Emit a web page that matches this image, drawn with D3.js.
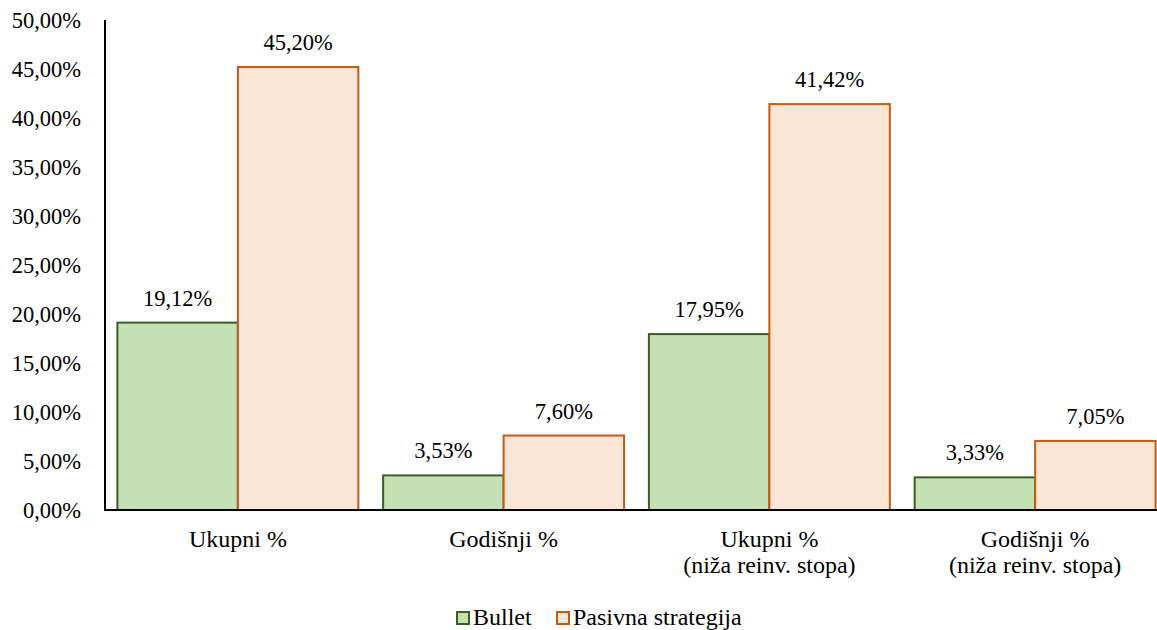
<!DOCTYPE html>
<html>
<head>
<meta charset="utf-8">
<script src="https://cdn.jsdelivr.net/npm/d3@7"></script>
<style>
  body { margin: 0; background: #fff; }
</style>
</head>
<body>
<script>
// chart data
var categories = [
    ["Ukupni %"],
    ["Godišnji %"],
    ["Ukupni %", "(niža reinv. stopa)"],
    ["Godišnji %", "(niža reinv. stopa)"]
];
var seriesNames = ["Bullet", "Pasivna strategija"];
var bulletValues = [19.12, 3.53, 17.95, 3.33];
var pasivnaValues = [45.20, 7.60, 41.42, 7.05];
var yTicks = [0, 5, 10, 15, 20, 25, 30, 35, 40, 45, 50];

var fills = ["#C5E0B4", "#FBE5D6"];
var strokes = ["#3B5E22", "#C55A11"];

var width = 1157, height = 630;
var margin = {top: 20, right: -11, bottom: 120, left: 105};
var FONT = "Liberation Serif";
var FS = "22.5px";     // ticks, data labels
var FS_CAT = "24px";   // category labels, legend

var fmt = function (v) { return v.toFixed(2).replace(".", ",") + "%"; };

var svg = d3.select("body").append("svg")
    .attr("width", width)
    .attr("height", height);

var x0 = d3.scaleBand()
    .domain(d3.range(categories.length))
    .range([margin.left, width - margin.right])
    .padding(0);

var x1 = d3.scaleBand()
    .domain(seriesNames)
    .range([12.4, x0.bandwidth() - 12.4])
    .padding(0);

var y = d3.scaleLinear()
    .domain([0, 50])
    .range([height - margin.bottom, margin.top]);

// y axis labels (no ticks)
svg.append("g")
    .selectAll("text")
    .data(yTicks)
    .enter()
    .append("text")
    .attr("x", 81)
    .attr("y", function (d) { return y(d); })
    .attr("dy", "0.35em")
    .attr("text-anchor", "end")
    .style("font-family", FONT)
    .style("font-size", FS)
    .text(function (d) { return fmt(d); });

var rows = categories.map(function (c, i) {
    return {i: i, values: [bulletValues[i], pasivnaValues[i]]};
});

var groups = svg.selectAll("g.cat")
    .data(rows)
    .enter()
    .append("g")
    .attr("class", "cat")
    .attr("transform", function (d) { return "translate(" + x0(d.i) + ",0)"; });

groups.selectAll("rect")
    .data(function (d) {
        return d.values.map(function (v, k) { return {k: k, v: v}; });
    })
    .enter()
    .append("rect")
    .attr("x", function (d) { return x1(seriesNames[d.k]); })
    .attr("y", function (d) { return y(d.v); })
    .attr("width", x1.bandwidth())
    .attr("height", function (d) { return y(0) - y(d.v); })
    .style("fill", function (d) { return fills[d.k]; })
    .style("stroke", function (d) { return strokes[d.k]; })
    .style("stroke-width", 2);

groups.selectAll("text.val")
    .data(function (d) {
        return d.values.map(function (v, k) { return {k: k, v: v}; });
    })
    .enter()
    .append("text")
    .attr("class", "val")
    .attr("x", function (d) { return x1(seriesNames[d.k]) + x1.bandwidth() / 2; })
    .attr("y", function (d) { return y(d.v) - 17; })
    .attr("text-anchor", "middle")
    .style("font-family", FONT)
    .style("font-size", FS)
    .text(function (d) { return fmt(d.v); });

// axes lines
svg.append("line")
    .attr("x1", margin.left).attr("x2", margin.left)
    .attr("y1", y(50)).attr("y2", y(0))
    .style("stroke", "#000").style("stroke-width", 2);

svg.append("line")
    .attr("x1", margin.left - 1).attr("x2", width)
    .attr("y1", y(0)).attr("y2", y(0))
    .style("stroke", "#000").style("stroke-width", 2);

// category labels
var catLabels = svg.selectAll("text.cat")
    .data(categories)
    .enter()
    .append("text")
    .attr("class", "cat")
    .attr("text-anchor", "middle")
    .style("font-family", FONT)
    .style("font-size", FS_CAT);

catLabels.selectAll("tspan")
    .data(function (d, i) { return d.map(function (s) { return {s: s, i: i}; }); })
    .enter()
    .append("tspan")
    .attr("x", function (d) { return x0(d.i) + x0.bandwidth() / 2; })
    .attr("y", function (d, j) { return 547 + j * 25.5; })
    .text(function (d) { return d.s; });

// legend
var legendX = [456, 556];
var legend = svg.selectAll("g.legend")
    .data(seriesNames)
    .enter()
    .append("g")
    .attr("class", "legend")
    .attr("transform", function (d, i) { return "translate(" + legendX[i] + ",611)"; });

legend.append("rect")
    .attr("x", 1).attr("y", 1)
    .attr("width", 12).attr("height", 12)
    .style("fill", function (d, i) { return fills[i]; })
    .style("stroke", function (d, i) { return strokes[i]; })
    .style("stroke-width", 2);

legend.append("text")
    .attr("x", 17)
    .attr("y", 14)
    .style("font-family", FONT)
    .style("font-size", FS_CAT)
    .text(function (d) { return d; });
</script>
</body>
</html>
